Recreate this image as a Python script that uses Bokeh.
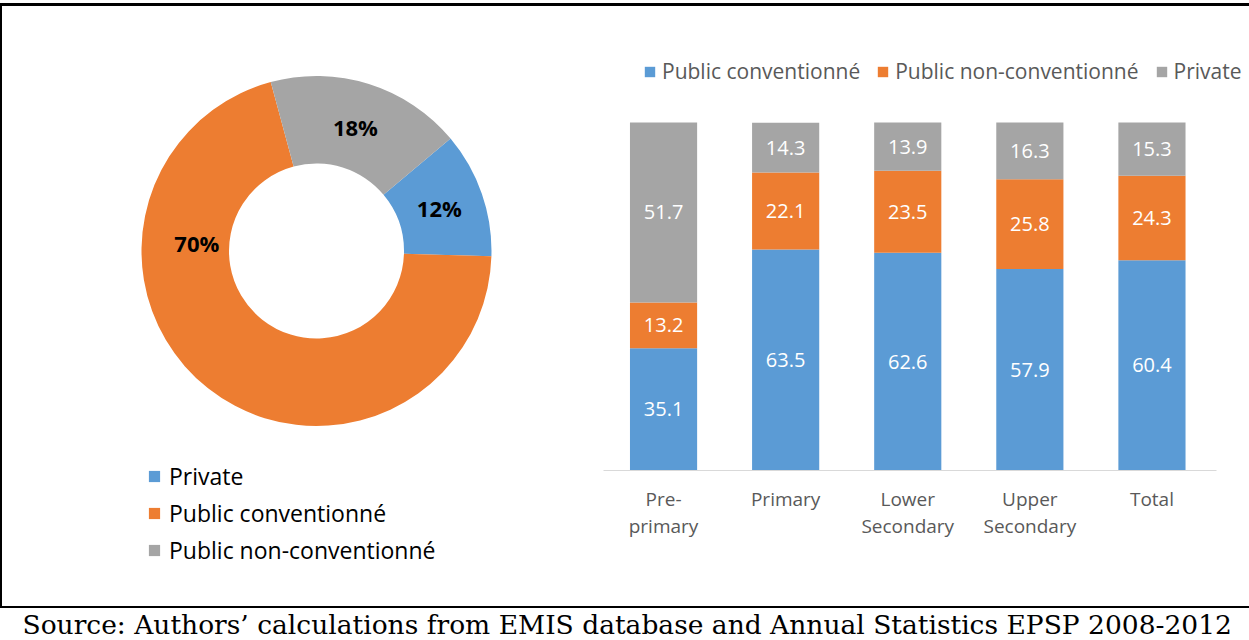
import math
from bokeh.plotting import figure
from bokeh.layouts import column, row
from bokeh.models import (Range1d, ColumnDataSource, Legend, LegendItem, LinearAxis,
                          FixedTicker, Spacer, InlineStyleSheet)
from bokeh.core.properties import value
from bokeh.embed import file_html
from bokeh.resources import INLINE

# ---------------- data ----------------
donut_labels = ["Private", "Public conventionné", "Public non-conventionné"]
donut_values = [11.6, 70.3, 18.1]
donut_colors = ["#5B9BD5", "#ED7D31", "#A5A5A5"]

levels = ["Pre-primary", "Primary", "Lower Secondary", "Upper Secondary", "Total"]
level_line1 = ["Pre-", "Primary", "Lower", "Upper", "Total"]
level_line2 = ["primary", "", "Secondary", "Secondary", ""]
public_conv = [35.1, 63.5, 62.6, 57.9, 60.4]
public_nonconv = [13.2, 22.1, 23.5, 25.8, 24.3]
private = [51.7, 14.3, 13.9, 16.3, 15.3]
series_names = ["Public conventionné", "Public non-conventionné", "Private"]
series_colors = ["#5B9BD5", "#ED7D31", "#A5A5A5"]

source_text = "Source: Authors\u2019 calculations from EMIS database and Annual Statistics EPSP 2008-2012"

# ---------------- layout constants (page pixels) ----------------
W, H = 1249, 640
ROW_TOP, ROW_BOT = 6, 604          # middle row spans page y 6..604
LEFT_X0, LEFT_X1 = 2, 600          # donut column spans page x 2..600
SPLIT_Y = 455                      # donut / donut-legend split
FONT = "Open Sans"
CLIP = {"overflow": "hidden"}
NOBAR_CSS = """
:host { overflow: hidden !important; scrollbar-width: none !important; }
* { scrollbar-width: none !important; }
::-webkit-scrollbar { display: none !important; width: 0 !important; height: 0 !important; }
"""


def nobar():
    return [InlineStyleSheet(css=NOBAR_CSS)]


def Y(page_y):
    """data y used in the left column figures: page y flipped (y up)."""
    return ROW_BOT - page_y


def rule(width, height, color="white", left_line=False):
    st = {"background-color": color}
    if left_line:
        st = {"background": "linear-gradient(to right, #000 0px, #000 2px, #fff 2px)"}
    return Spacer(width=width, height=height, margin=0, styles=st)


def blank(width, height, xr, yr):
    p = figure(width=width, height=height, x_range=xr, y_range=yr,
               output_backend="svg", toolbar_location=None, x_axis_location=None, y_axis_location=None,
               min_border=0, outline_line_color=None, border_fill_color="white",
               background_fill_color="white", styles=CLIP, stylesheets=nobar())
    p.grid.visible = False
    return p


# ---------------- donut ----------------
donut = blank(LEFT_X1 - LEFT_X0, SPLIT_Y - ROW_TOP, Range1d(LEFT_X0, LEFT_X1), Range1d(Y(SPLIT_Y), Y(ROW_TOP)))

cx, cy = 316, Y(250.5)
R_OUT, R_IN = 175, 87.5
START_DEG = 40
total = sum(donut_values)
starts, ends = [], []
acc = 0.0
for v in donut_values:
    s = START_DEG - acc / total * 360
    e = s - v / total * 360
    starts.append(math.radians(s))
    ends.append(math.radians(e))
    acc += v
dsrc = ColumnDataSource(dict(label=donut_labels, value=donut_values, color=donut_colors,
                             start=starts, end=ends))
donut.annular_wedge(x=cx, y=cy, inner_radius=R_IN, outer_radius=R_OUT,
                    start_angle="start", end_angle="end", direction="clock",
                    fill_color="color", line_color=None, source=dsrc)

LABEL_R = 130
LABEL_OVERRIDE = {"Public conventionné": (176, 120)}  # (angle deg, radius) of the moved label
lx, ly, lt = [], [], []
for lbl, v, s, e in zip(donut_labels, donut_values, starts, ends):
    ang, rad = (s + e) / 2, LABEL_R
    if lbl in LABEL_OVERRIDE:
        ang, rad = math.radians(LABEL_OVERRIDE[lbl][0]), LABEL_OVERRIDE[lbl][1]
    lx.append(cx + rad * math.cos(ang))
    ly.append(cy + rad * math.sin(ang))
    lt.append(f"{round(v)}%")
donut.text(x=lx, y=ly, text=lt, text_font=value(FONT), text_font_style="bold",
           text_font_size="22px", text_align="center", text_baseline="middle", text_color="black")

# donut legend (own figure under the donut; swatches come from a copy of the wedges kept off-view)
dlegfig = blank(LEFT_X1 - LEFT_X0, ROW_BOT - SPLIT_Y, Range1d(LEFT_X0, LEFT_X1), Range1d(0, Y(SPLIT_Y)))
ghost = dlegfig.annular_wedge(x=-10000, y=-10000, inner_radius=R_IN, outer_radius=R_OUT,
                              start_angle="start", end_angle="end", direction="clock",
                              fill_color="color", line_color=None, source=dsrc)
dleg = Legend(items=[LegendItem(label=l, renderers=[ghost], index=i) for i, l in enumerate(donut_labels)],
              location=(147 - LEFT_X0, 38), orientation="vertical", glyph_width=14, glyph_height=14,
              label_standoff=8, label_text_font=FONT, label_text_font_size="23px",
              label_text_color="black", label_height=23, spacing=5, padding=0, margin=0,
              border_line_color=None, background_fill_alpha=0)
dlegfig.add_layout(dleg)

# ---------------- stacked bars ----------------
FRAME_L, FRAME_R, FRAME_B = 602, 1245, 470
PX_PER_CAT = 122.1
PX_PER_PCT = 3.48
xpos = [i + 0.5 for i in range(len(levels))]
bars = figure(width=W - LEFT_X1, height=ROW_BOT - ROW_TOP,
              x_range=Range1d(0, (FRAME_R - FRAME_L) / PX_PER_CAT),
              y_range=Range1d(0, (FRAME_B - ROW_TOP) / PX_PER_PCT),
              output_backend="svg", toolbar_location=None, x_axis_location=None, y_axis_location=None,
              min_border_left=FRAME_L - LEFT_X1, min_border_right=W - FRAME_R, min_border_top=0,
              min_border_bottom=ROW_BOT - FRAME_B, styles=CLIP, stylesheets=nobar(),
              outline_line_color=None, border_fill_color="white", background_fill_color="white")
bars.grid.visible = False

bsrc = ColumnDataSource(dict(x=xpos, level=levels, pc=public_conv, pnc=public_nonconv, priv=private))
rs = bars.vbar_stack(["pc", "pnc", "priv"], x="x", width=0.55, fill_color=series_colors,
                     line_color=None, source=bsrc)

tx, ty, tt = [], [], []
for i in range(len(levels)):
    base = 0.0
    for arr in (public_conv, public_nonconv, private):
        tx.append(xpos[i])
        ty.append(base + arr[i] / 2)
        tt.append(f"{arr[i]:.1f}")
        base += arr[i]
bars.text(x=tx, y=ty, text=tt, text_color="white", text_font=value(FONT), text_font_size="20px",
          text_align="center", text_baseline="middle")

bleg = Legend(items=[LegendItem(label=n, renderers=[r]) for n, r in zip(series_names, rs)],
              orientation="horizontal", location=(643 - FRAME_L, 385), glyph_width=13, glyph_height=13,
              label_standoff=6, spacing=16, label_text_font=FONT, label_text_font_size="21px",
              label_text_color="#595959", label_height=20, padding=0, margin=0,
              border_line_color=None, background_fill_alpha=0)
bars.add_layout(bleg)


def cat_axis(labels, standoff, line_color):
    ov = {}
    for x, l in zip(xpos, labels):
        ov[x] = l
    ax = LinearAxis(ticker=FixedTicker(ticks=xpos), major_label_overrides=ov,
                    bounds=(0.01, 5.03), axis_line_color=line_color, axis_line_width=1,
                    major_tick_in=0, major_tick_out=0, minor_tick_in=0, minor_tick_out=0,
                    major_tick_line_color=None, minor_tick_line_color=None,
                    major_label_standoff=standoff, major_label_text_color="#595959",
                    major_label_text_font=FONT, major_label_text_font_size="19px")
    return ax


bars.add_layout(cat_axis(level_line1, 15, "#D9D9D9"), "below")
bars.add_layout(cat_axis(level_line2, -2, None), "below")

# ---------------- footer text ----------------
SRC_TOP = 608
srcfig = blank(W, H - SRC_TOP, Range1d(0, W), Range1d(0, H - SRC_TOP))
srcfig.text(x=[22], y=[H - 624], text=[source_text], text_font=value("DejaVu Serif"),
            text_font_size="26.5px", text_baseline="middle", text_color="black")

left_col = column(donut, dlegfig, width=LEFT_X1 - LEFT_X0, height=ROW_BOT - ROW_TOP,
                  styles=CLIP, stylesheets=nobar())
mid = row(rule(LEFT_X0, ROW_BOT - ROW_TOP, "black"), left_col, bars,
          width=W, height=ROW_BOT - ROW_TOP, styles=CLIP, stylesheets=nobar())
layout = column(
    rule(W, 3),
    rule(W, 3, "black"),
    mid,
    rule(W, 2, left_line=True),
    rule(W, 2, "black"),
    srcfig,
    width=W, height=H, styles=CLIP, stylesheets=nobar(),
)
html = file_html(layout, INLINE)
page_css = ("<style>html, body { margin: 0; overflow: hidden !important; scrollbar-width: none; }"
            " ::-webkit-scrollbar { display: none; width: 0; height: 0; }</style>")
html = html.replace("</head>", page_css + "</head>", 1)
open("out.html", "w").write(html)
